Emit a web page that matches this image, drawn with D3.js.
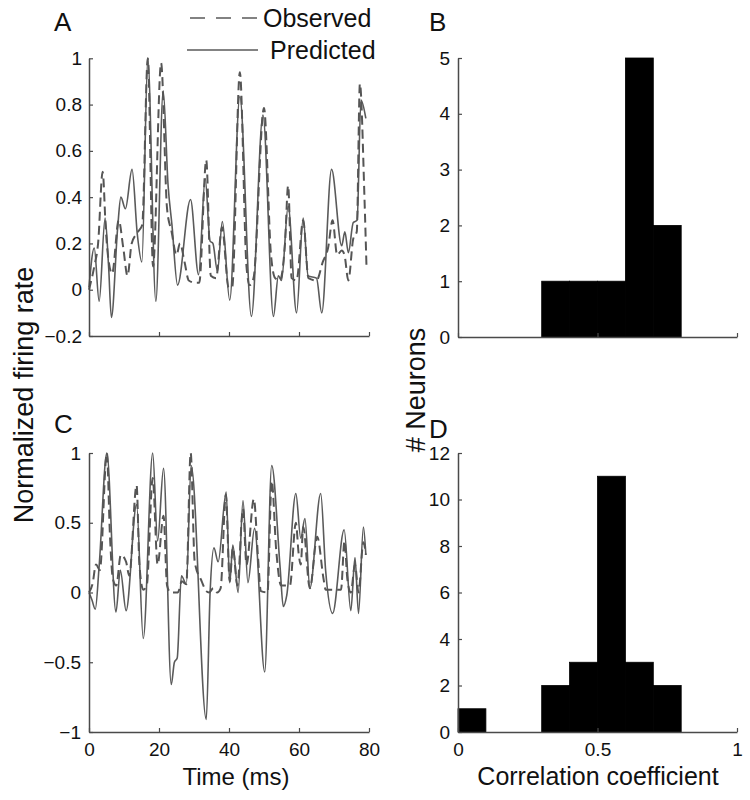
<!DOCTYPE html>
<html>
<head>
<meta charset="utf-8">
<script src="https://cdn.jsdelivr.net/npm/d3@7"></script>
<style>
  html, body { margin: 0; padding: 0; background: #fff; }
  svg { display: block; font-family: "Liberation Sans", Arial, Helvetica, sans-serif; }
</style>
</head>
<body>
<svg id="chart" width="750" height="800"></svg>
<script>
// ---------------- DATA ----------------
// Panel A: [time (ms), normalized firing rate]
const observedA = [[0,0.0],[1.5,0.1],[2.6,0.2],[3.9,0.51],[4.8,0.26],[5.4,0.15],[6.6,0.07],[8.5,0.3],[9.8,0.18],[11.0,0.06],[12.2,0.2],[14.0,0.25],[15.2,0.28],[16.8,1.0],[18.3,0.1],[20.6,0.98],[22.3,0.35],[23.6,0.25],[25.0,0.15],[26.0,0.2],[27.3,0.12],[28.5,0.04],[30.4,0.03],[31.5,0.03],[33.5,0.56],[34.8,0.06],[36.3,0.05],[38.0,0.27],[39.9,0.01],[40.9,0.01],[43.1,0.94],[45.0,0.1],[45.9,0.02],[47.0,0.05],[50.0,0.785],[52.0,0.15],[53.2,0.05],[54.5,0.04],[56.0,0.2],[56.9,0.45],[57.9,0.05],[59.3,0.04],[61.2,0.3],[62.7,0.05],[65.0,0.04],[66.8,0.12],[68.3,0.18],[69.6,0.3],[70.9,0.15],[72.2,0.17],[73.0,0.15],[74.1,0.04],[75.5,0.22],[76.5,0.25],[77.4,0.89],[78.7,0.4],[79.3,0.09]];
const predictedA = [[0,0.01],[1.5,0.18],[2.9,-0.05],[4.6,0.31],[5.6,0.1],[6.4,-0.12],[8.2,0.27],[9.1,0.40],[10.4,0.35],[12.3,0.52],[13.8,0.24],[15.1,0.12],[16.8,1.0],[19.1,-0.05],[21.2,0.86],[22.6,0.45],[23.7,0.28],[25.3,0.02],[29.0,0.39],[31.3,0.065],[33.2,0.48],[34.6,0.21],[35.4,0.2],[36.7,0.08],[38.1,0.295],[40.2,-0.045],[43.1,0.835],[46.4,-0.115],[49.7,0.755],[52.7,-0.115],[54.1,0.06],[55.0,0.04],[56.9,0.36],[59.3,-0.1],[61.2,0.31],[62.6,0.06],[65.0,0.05],[66.5,-0.1],[69.3,0.52],[72.2,0.19],[73.1,0.25],[74.1,0.16],[75.5,0.29],[76.6,0.3],[77.7,0.82],[79.1,0.74]];
// Panel C
const observedC = [[0,0],[1.0,0.06],[2.0,0.2],[3.1,0.16],[5.1,1.0],[6.0,0.4],[6.8,0.1],[7.8,0.05],[9.1,0.27],[10.6,0.22],[11.5,0.12],[13.6,0.77],[14.4,0.2],[15.5,0.02],[16.5,0.05],[18.2,0.82],[19.6,0.2],[21.3,0.55],[22.3,0.05],[23.3,0.0],[25.4,0.0],[26.5,0.08],[27.8,0.06],[29.05,1.0],[30.2,0.22],[32.2,0.08],[33.5,0.01],[34.3,0.0],[35.5,0.03],[36.6,0.0],[37.6,0.03],[39.1,0.7],[40.2,0.08],[41.1,0.32],[42.4,0.05],[44.0,0.6],[45.0,0.2],[47.1,0.67],[48.3,0.25],[49.1,0.01],[51.0,0.0],[52.2,0.8],[53.5,0.3],[54.9,0.05],[57.4,0.05],[59.1,0.5],[59.9,0.28],[60.5,0.2],[61.2,0.47],[63.1,0.03],[65.2,0.4],[67.0,0.1],[67.6,0.02],[72.0,0.02],[73.0,0.37],[73.8,0.1],[74.8,0.0],[76.0,0.2],[77.0,0.0],[78.4,0.36],[79.1,0.27]];
const predictedC = [[0,0],[0.8,-0.05],[1.8,-0.12],[2.9,0.19],[5.1,1.0],[7.7,-0.14],[8.95,0.16],[10.6,-0.13],[13.6,0.63],[15.5,-0.33],[18.2,1.0],[19.6,0.37],[21.3,0.89],[23.5,-0.66],[24.4,-0.5],[25.2,-0.47],[26.4,0.12],[27.8,0.06],[29.2,0.91],[33.5,-0.91],[34.6,0.0],[35.7,0.32],[36.9,0.22],[39.2,0.72],[40.2,0.07],[41.1,0.34],[42.6,0.0],[44.0,0.66],[45.4,0.07],[47.3,0.46],[50.2,-0.57],[52.2,0.91],[54.6,0.18],[55.5,-0.1],[56.5,-0.02],[59.1,0.71],[60.5,0.39],[61.7,0.53],[63.1,0.03],[66.2,0.71],[67.6,0.16],[69.6,-0.15],[72.9,0.45],[74.8,-0.13],[76.0,0.25],[77.0,-0.15],[78.4,0.47],[79.1,0.27]];
// Histograms (bins of correlation coefficient)
const binEdges = [0,0.1,0.2,0.3,0.4,0.5,0.6,0.7,0.8,0.9,1.0];
const countsB = [0,0,0,1,1,1,5,2,0,0];
const countsD = [1,0,0,2,3,11,3,2,0,0];
// Tick values / labels
const timeTicks = [0,20,40,60,80];
const yTicksA = [-0.2,0,0.2,0.4,0.6,0.8,1];
const yLabelsA = ["\u22120.2","0","0.2","0.4","0.6","0.8","1"];
const yTicksC = [-1,-0.5,0,0.5,1];
const yLabelsC = ["\u22121","\u22120.5","0","0.5","1"];
const yTicksB = [0,1,2,3,4,5];
const yTicksD = [0,2,4,6,8,10,12];
const corrTicks = [0,0.5,1];
const corrLabels = ["0","0.5","1"];

// ---------------- DRAWING ----------------
const svg = d3.select("#chart");
const AXIS = "#4a4a4a", LINE = "#5a5a5a";
const TICKFONT = 19;

const xA = d3.scaleLinear().domain([0,80]).range([89,369]);
const yA = d3.scaleLinear().domain([-0.2,1]).range([336,58.3]);
const xC = d3.scaleLinear().domain([0,80]).range([89,369]);
const yC = d3.scaleLinear().domain([-1,1]).range([732,453]);
const xB = d3.scaleLinear().domain([0,1]).range([458,737]);
const yB = d3.scaleLinear().domain([0,5]).range([337,58]);
const xD = d3.scaleLinear().domain([0,1]).range([458,737]);
const yD = d3.scaleLinear().domain([0,12]).range([732,453]);

function styleAxis(g) {
  g.select(".domain").attr("stroke", AXIS).attr("stroke-width", 1.5);
  g.selectAll(".tick line").attr("stroke", AXIS).attr("stroke-width", 1.2);
  g.selectAll(".tick text").attr("fill", "#111").attr("font-size", TICKFONT)
    .attr("font-family", "Liberation Sans, Arial, sans-serif");
}
function leftAxis(x0, y, vals, labels, pad) {
  const ax = d3.axisLeft(y).tickValues(vals).tickSize(-4).tickSizeOuter(0).tickPadding(pad)
    .tickFormat((d,i) => labels ? labels[i] : String(d));
  const g = svg.append("g").attr("transform", `translate(${x0},0)`).call(ax);
  styleAxis(g);
}
function bottomAxis(y0, x, vals, labels, pad) {
  const ax = d3.axisBottom(x).tickValues(vals).tickSize(-4).tickSizeOuter(0).tickPadding(pad)
    .tickFormat((d,i) => labels ? labels[i] : "");
  const g = svg.append("g").attr("transform", `translate(0,${y0})`).call(ax);
  styleAxis(g);
}

// Lines
function drawLines(xs, ys, obs, pred) {
  const line = d3.line().x(d => xs(d[0])).y(d => ys(d[1])).curve(d3.curveMonotoneX);
  svg.append("path").datum(pred).attr("d", line).attr("fill", "none")
    .attr("stroke", LINE).attr("stroke-width", 1.6);
  svg.append("path").datum(obs).attr("d", line).attr("fill", "none")
    .attr("stroke", "#555").attr("stroke-width", 2).attr("stroke-dasharray", "9,5");
}
drawLines(xA, yA, observedA, predictedA);
drawLines(xC, yC, observedC, predictedC);

// Histograms
function drawHist(xs, ys, counts) {
  const bins = counts.map((c,i) => ({x0: binEdges[i], x1: binEdges[i+1], c}));
  svg.append("g").selectAll("rect").data(bins.filter(b => b.c > 0)).join("rect")
    .attr("x", d => xs(d.x0)).attr("width", d => xs(d.x1) - xs(d.x0))
    .attr("y", d => ys(d.c)).attr("height", d => ys(0) - ys(d.c))
    .attr("fill", "#000").attr("stroke", "#000").attr("stroke-width", 0.8);
}
drawHist(xB, yB, countsB);
drawHist(xD, yD, countsD);

// Axes
leftAxis(89, yA, yTicksA, yLabelsA, 7);
bottomAxis(336, xA, timeTicks, null, 10);
leftAxis(89, yC, yTicksC, yLabelsC, 8);
bottomAxis(732, xC, timeTicks, timeTicks.map(String), 11);
leftAxis(458, yB, yTicksB, null, 8);
bottomAxis(337, xB, corrTicks, null, 10);
leftAxis(458, yD, yTicksD, null, 8);
bottomAxis(732, xD, corrTicks, corrLabels, 11);

// Panel letters
const letters = [["A",54,31],["B",429,31],["C",54,433],["D",429,438]];
svg.selectAll("text.panel").data(letters).join("text").attr("class","panel")
  .attr("x", d => d[1]).attr("y", d => d[2]).text(d => d[0])
  .attr("font-size", 26).attr("fill", "#111");

// Axis titles
svg.append("text").attr("transform", "translate(33,395) rotate(-90)")
  .attr("text-anchor", "middle").attr("font-size", 27).attr("fill", "#111")
  .text("Normalized firing rate");
svg.append("text").attr("transform", "translate(425,390) rotate(-90)")
  .attr("text-anchor", "middle").attr("font-size", 27).attr("fill", "#111")
  .text("# Neurons");
svg.append("text").attr("x", 236).attr("y", 785).attr("text-anchor", "middle")
  .attr("font-size", 24).attr("fill", "#111").text("Time (ms)");
svg.append("text").attr("x", 598).attr("y", 785).attr("text-anchor", "middle")
  .attr("font-size", 25).attr("fill", "#111").text("Correlation coefficient");

// Legend
svg.append("line").attr("x1", 190).attr("x2", 258).attr("y1", 18).attr("y2", 18)
  .attr("stroke", LINE).attr("stroke-width", 1.5).attr("stroke-dasharray", "15,11");
svg.append("text").attr("x", 263).attr("y", 27).attr("font-size", 25).attr("fill", "#111").text("Observed");
svg.append("line").attr("x1", 187).attr("x2", 258).attr("y1", 50).attr("y2", 50)
  .attr("stroke", LINE).attr("stroke-width", 1.5);
svg.append("text").attr("x", 270).attr("y", 59).attr("font-size", 25).attr("fill", "#111").text("Predicted");
</script>
</body>
</html>
